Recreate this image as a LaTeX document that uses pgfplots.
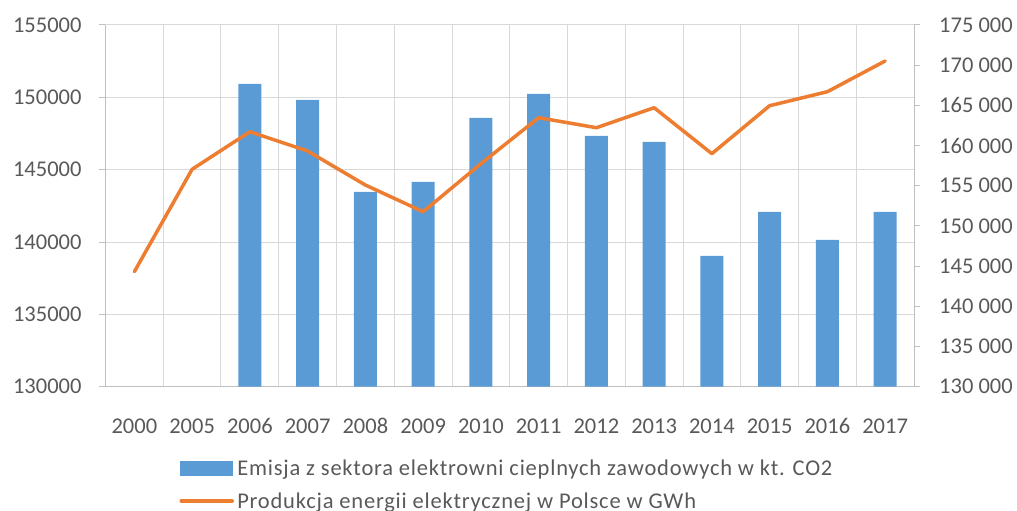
\documentclass[border=0pt]{standalone}
\usepackage{pgfplots}
\pgfplotsset{compat=1.18}
\usepackage{fontspec}
\setmainfont{Carlito}
\newfontfamily\legfont{Carlito}[LetterSpace=3.5]
\definecolor{barblue}{HTML}{5B9BD5}
\definecolor{lineorange}{HTML}{ED7D31}
\definecolor{gridgray}{HTML}{D9D9D9}
\definecolor{axgray}{HTML}{BFBFBF}
\definecolor{txtgray}{HTML}{595959}
\pgfplotsset{
  common/.style={
    width=808.5pt, height=361.7pt, scale only axis,
    xmin=-0.5, xmax=13.5, ymin=130000,
    scaled y ticks=false,
    /pgf/number format/fixed,
    /pgf/number format/precision=0,
    /pgf/number format/assume math mode=true,
    tick label style={font=\fontsize{22.5}{27}\selectfont, text=txtgray},
    axis line style={draw=axgray, line width=1pt},
    tick style={draw=axgray, line width=1pt},
    tick align=outside, major tick length=6pt,
    xtick style={draw=none},
    xtick={0,...,13},
    xticklabels={2000,2005,2006,2007,2008,2009,2010,2011,2012,2013,2014,2015,2016,2017},
    xticklabel style={anchor=base, inner sep=0pt, yshift=-40.6pt},
    yticklabel style={inner sep=0pt},
  }
}
\begin{document}
\begin{tikzpicture}
\useasboundingbox (-105.5pt,-124.3pt) rectangle (911.5pt,386.7pt);
\clip (-105.5pt,-124.3pt) rectangle (911.5pt,386.7pt);
\begin{axis}[common,
  ymax=155000,
  ytick={130000,135000,140000,145000,150000,155000},
  /pgf/number format/1000 sep={},
  axis y line*=left, axis x line*=bottom,
  ymajorgrids, xminorgrids,
  minor xtick={0.5,1.5,...,12.5},
  minor tick length=0pt,
  grid style={draw=gridgray, line width=1pt},
  yticklabel style={anchor=east, xshift=-17.8pt},
  ybar, bar width=23pt,
]
\addplot[draw=none, fill=barblue, bar shift=0pt] coordinates {
  (2,150930) (3,149830) (4,143470) (5,144160) (6,148580) (7,150240)
  (8,147340) (9,146920) (10,139040) (11,142080) (12,140150) (13,142080)
};
\end{axis}
\begin{axis}[common,
  ymax=175000,
  ytick={130000,135000,...,175000},
  /pgf/number format/1000 sep={\ },
  axis y line*=right, axis x line=none,
  yticklabel style={anchor=west, xshift=19pt},
  legend style={draw=none, fill=none, inner sep=0pt, outer sep=0pt,
    at={(0.0915,-0.1833)}, anchor=north west,
    font=\legfont\fontsize{22.5}{27}\selectfont, text=txtgray,
    row sep=0pt,
    cells={anchor=west},
    /tikz/every odd column/.style={column sep=3.3pt},
    nodes={inner sep=0pt, text height=22pt, text depth=11pt},
  },
]
\addlegendimage{legend image code/.code={\fill[barblue] (0pt,-5.5pt) rectangle (52pt,8.5pt);}}
\addlegendentry{Emisja z sektora elektrowni cieplnych zawodowych w kt. CO2}
\addplot[lineorange, line width=3.5pt, line cap=round, line join=round,
  legend image code/.code={\draw[lineorange, line width=3.5pt, line cap=round] (1.5pt,1.5pt) -- (52.5pt,1.5pt);}]
  coordinates {
  (0,144310) (1,157050) (2,161720) (3,159320) (4,155090) (5,151770) (6,157740)
  (7,163470) (8,162220) (9,164710) (10,158990) (11,164960) (12,166700) (13,170520)
};
\addlegendentry{Produkcja energii elektrycznej w Polsce w GWh}
\end{axis}
\end{tikzpicture}
\end{document}
